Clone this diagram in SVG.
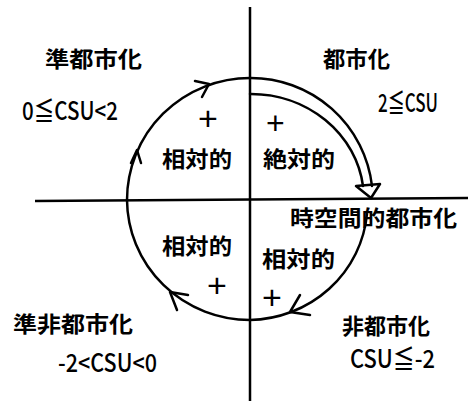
<svg xmlns="http://www.w3.org/2000/svg" width="471" height="401" viewBox="0 0 471 401">
<style>
.lbl{font-family:"Noto Sans CJK JP","Noto Sans CJK SC",sans-serif;font-weight:700;font-size:22px;fill:#000}
.num{font-family:"Noto Sans CJK JP","Noto Sans CJK SC",sans-serif;font-weight:500;font-size:25px;fill:#000}
.plus{font-family:"Liberation Sans",sans-serif;font-weight:400;font-size:34px;fill:#000}
.ln{fill:none;stroke:#000;stroke-width:2.5;stroke-linecap:round;stroke-linejoin:round}
.ax{fill:none;stroke:#000;stroke-width:2.5}
</style>
<rect width="471" height="401" fill="#fff"/>
<g id="axes">
<line class="ax" x1="250" y1="7" x2="250" y2="401"/>
<line class="ax" x1="35" y1="201" x2="468" y2="198"/>
</g>
<g id="connectors">
<path class="ln" d="M367 214 A120 117 0 0 1 250 320"/>
<path class="ln" d="M250 320 A123 121 0 0 1 127 200"/>
<path class="ln" d="M127 200 A123 122 0 0 1 250 78"/>
<path class="ln" d="M250 78 A122 122 0 0 1 372 186"/>
<path class="ln" d="M250 94 A113 105 0 0 1 363 186"/>
<polygon class="ln" points="356,186 380,184 371,198" fill="#fff"/>
<polyline class="ln" points="195,81 209,84 202,97"/>
<polyline class="ln" points="131,163 137,150 141,163"/>
<polyline class="ln" points="188,295 170,292 177,310"/>
<polyline class="ln" points="300,295 290,312 310,315"/>
</g>
<g id="q2">
<text class="lbl" x="45" y="67" textLength="97" lengthAdjust="spacingAndGlyphs">準都市化</text>
<text class="num" x="22" y="120" textLength="96" lengthAdjust="spacingAndGlyphs">0≦CSU&lt;2</text>
<text class="plus" x="198" y="130">+</text>
<text class="lbl" x="162" y="167" textLength="70" lengthAdjust="spacingAndGlyphs">相対的</text>
</g>
<g id="q1">
<text class="lbl" x="323" y="67" textLength="67" lengthAdjust="spacingAndGlyphs">都市化</text>
<text class="num" x="378" y="112" textLength="60" lengthAdjust="spacingAndGlyphs">2≦CSU</text>
<text class="plus" x="266" y="134" style="font-size:32px">+</text>
<text class="lbl" x="263" y="167" textLength="72" lengthAdjust="spacingAndGlyphs">絶対的</text>
</g>
<g id="spacetime">
<text class="lbl" x="290" y="226" textLength="167" lengthAdjust="spacingAndGlyphs">時空間的都市化</text>
</g>
<g id="q3">
<text class="lbl" x="162" y="254" textLength="70" lengthAdjust="spacingAndGlyphs">相対的</text>
<text class="plus" x="207" y="297">+</text>
<text class="lbl" x="13" y="332" textLength="120" lengthAdjust="spacingAndGlyphs">準非都市化</text>
<text class="num" x="58" y="372" textLength="99" lengthAdjust="spacingAndGlyphs">-2&lt;CSU&lt;0</text>
</g>
<g id="q4">
<text class="lbl" x="262" y="267" textLength="73" lengthAdjust="spacingAndGlyphs">相対的</text>
<text class="plus" x="262" y="309">+</text>
<text class="lbl" x="342" y="334" textLength="88" lengthAdjust="spacingAndGlyphs">非都市化</text>
<text class="num" x="350" y="368" textLength="85" lengthAdjust="spacingAndGlyphs">CSU≦-2</text>
</g>
</svg>
